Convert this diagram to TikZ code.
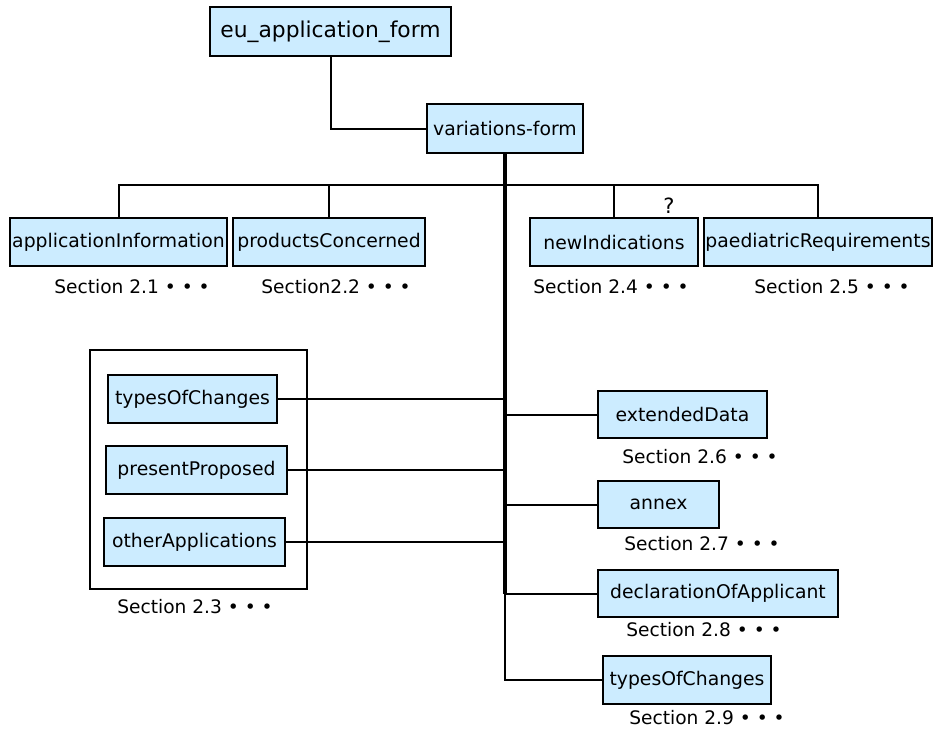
\documentclass[tikz,border=0pt]{standalone}
\usepackage{fontspec}
\setmainfont{DejaVu Sans}
\definecolor{boxfill}{RGB}{204,236,255}
\begin{document}
\begin{tikzpicture}[x=1pt,y=-1pt,
  elem/.style={draw=black,line width=2pt,fill=boxfill,inner sep=0pt,minimum height=48pt,font=\fontsize{18.8}{21}\selectfont},
  lbl/.style={inner sep=0pt,font=\fontsize{18.6}{21}\selectfont},
  conn/.style={line width=2pt},
  trunk/.style={line width=3.2pt}]
\useasboundingbox (0,0) rectangle (934,729);
\fill[white] (0,0) rectangle (934,729);
% group box
\node[draw=black,line width=2pt,minimum width=217pt,minimum height=239pt,inner sep=0pt] (grp) at (198.5,469.5) {};
% nodes
\node[elem,minimum width=241pt,minimum height=49pt,font=\fontsize{21.8}{24}\selectfont] (eu) at (330.5,31.5) {eu\_application\_form};
\node[elem,minimum width=156pt,minimum height=49pt] (vf) at (505,128.5) {variations-form};
\node[elem,minimum width=217pt] (ai) at (118.5,242) {applicationInformation};
\node[elem,minimum width=192pt] (pc) at (329,242) {productsConcerned};
\node[elem,minimum width=168pt] (ni) at (614,242) {newIndications};
\node[elem,minimum width=228pt] (pr) at (818,242) {paediatricRequirements};
\node[elem,minimum width=169pt] (t1) at (192.5,399) {typesOfChanges};
\node[elem,minimum width=181pt] (pp) at (196.5,470) {presentProposed};
\node[elem,minimum width=181pt] (oa) at (194.5,542) {otherApplications};
\node[elem,minimum width=169pt,minimum height=47pt] (ed) at (682.5,414.5) {extendedData};
\node[elem,minimum width=121pt,minimum height=47pt] (an) at (658.5,504.5) {annex};
\node[elem,minimum width=240pt,minimum height=47pt] (da) at (718,593.5) {declarationOfApplicant};
\node[elem,minimum width=168pt] (t2) at (687,680) {typesOfChanges};
% labels
\node[lbl] (s1) at (132,287) {Section 2.1 • • •};
\node[lbl] (s2) at (336,287) {Section2.2 • • •};
\node[lbl] (s4) at (611,287) {Section 2.4 • • •};
\node[lbl] (s5) at (832,287) {Section 2.5 • • •};
\node[lbl] (s3) at (195,607) {Section 2.3 • • •};
\node[lbl] (s6) at (700,457) {Section 2.6 • • •};
\node[lbl] (s7) at (702,544) {Section 2.7 • • •};
\node[lbl] (s8) at (704,630) {Section 2.8 • • •};
\node[lbl] (s9) at (707,718) {Section 2.9 • • •};
\node[lbl,font=\fontsize{21}{24}\selectfont] (q) at (669,206) {?};
% connectors
\coordinate (bus) at (505,185);
\coordinate (tk) at (505,593.5);
\draw[conn] (eu.south) |- (vf.west);
\draw[conn] (ai.north) |- (bus) -| (pr.north);
\draw[conn] (pc.north) -- (pc.north |- bus);
\draw[conn] (ni.north) -- (ni.north |- bus);
\draw[trunk] (vf.south) -- (tk);
\draw[conn] (tk) |- (t2.west);
\draw[conn] (t1.east) -- (t1.east -| vf.south);
\draw[conn] (pp.east) -- (pp.east -| vf.south);
\draw[conn] (oa.east) -- (oa.east -| vf.south);
\draw[conn] (ed.west) -- (ed.west -| vf.south);
\draw[conn] (an.west) -- (an.west -| vf.south);
\draw[conn] (da.west) -- (tk);
\end{tikzpicture}
\end{document}
